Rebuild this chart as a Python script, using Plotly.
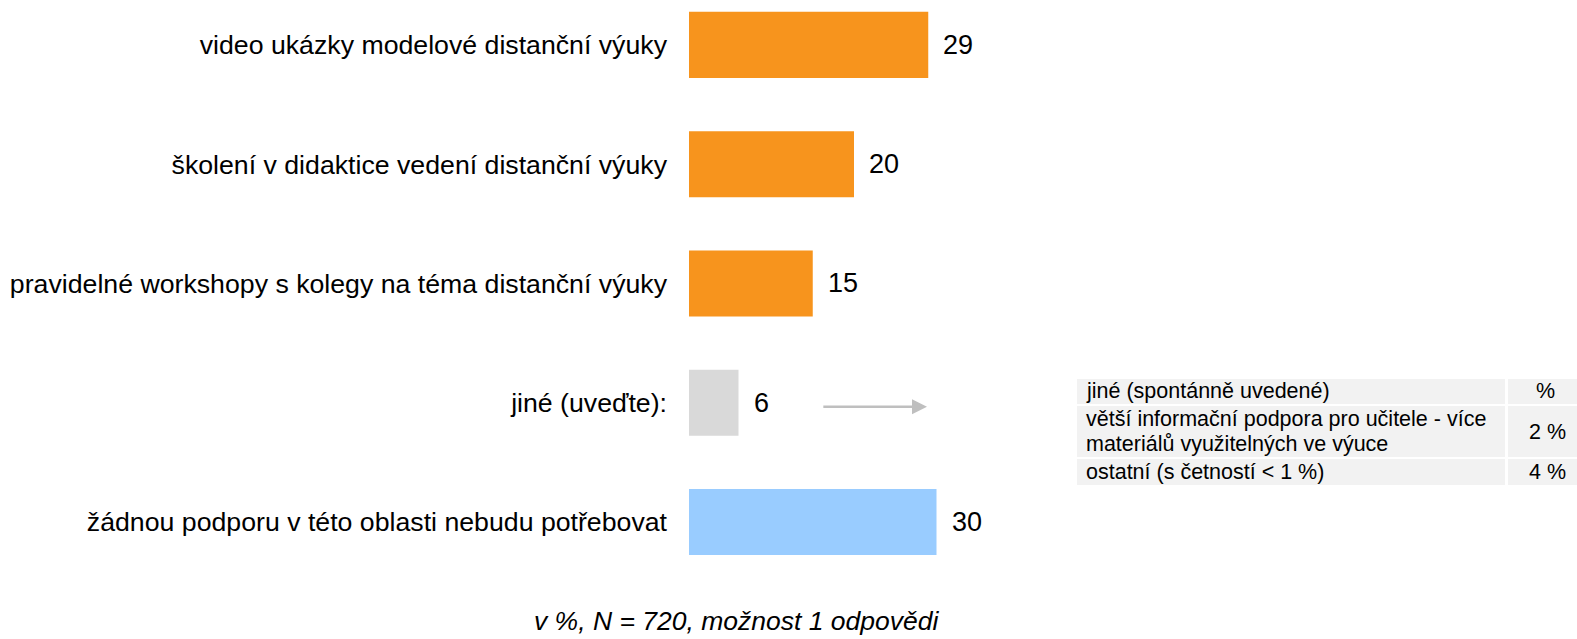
import plotly.graph_objects as go

# survey answers, top to bottom
categories = [
    "video ukázky modelové distanční výuky",
    "školení v didaktice vedení distanční výuky",
    "pravidelné workshopy s kolegy na téma distanční výuky",
    "jiné (uveďte):",
    "žádnou podporu v této oblasti nebudu potřebovat",
]
values = [29, 20, 15, 6, 30]
bar_colors = ["#F7941D", "#F7941D", "#F7941D", "#D9D9D9", "#99CCFF"]

# breakdown of the "jiné" answers (one list entry per printed line)
table_header = ["jiné (spontánně uvedené)", "%"]
table_items = [
    ["větší informační podpora pro učitele - více", "materiálů využitelných ve výuce"],
    ["ostatní (s četností < 1 %)"],
]
table_pcts = ["2 %", "4 %"]

note = "v %, N = 720, možnost 1 odpovědi"

FONT = "Liberation Sans, Arial, sans-serif"
W, H = 1577, 639
M_L, M_B = 689, 49
PX_PER_UNIT = 8.25
plot_w = W - M_L
plot_h = H - M_B


def px(x):
    return (x - M_L) / plot_w


def py(y):
    return (plot_h - y) / plot_h


fig = go.Figure()
fig.add_trace(
    go.Bar(
        x=values,
        y=list(range(len(categories))),
        orientation="h",
        width=0.555,
        marker={"color": bar_colors, "line": {"width": 0}},
        hoverinfo="skip",
        showlegend=False,
    )
)

annotations = []
shapes = []
for i, v in enumerate(values):
    annotations.append(
        {
            "x": v, "y": i, "xref": "x", "yref": "y",
            "text": str(v), "showarrow": False,
            "xanchor": "left", "xshift": 13,
            "font": {"family": FONT, "size": 27, "color": "#000000"},
        }
    )

# arrow pointing from the "jiné" bar to the breakdown table
annotations.append(
    {
        "x": 28.85, "y": 3, "ax": 16.1, "ay": 3,
        "xref": "x", "yref": "y", "axref": "x", "ayref": "y",
        "yshift": -4,
        "text": "", "showarrow": True,
        "arrowhead": 2, "arrowsize": 1.2, "arrowwidth": 2.5,
        "arrowcolor": "#BFBFBF",
    }
)

# breakdown table drawn as grey cells with white gaps
col_x = [(1077, 1505), (1508, 1590)]
row_y = [(379, 404), (406, 457), (459, 485)]
cell_font = {"family": FONT, "size": 21.5, "color": "#000000"}
rows = [([table_header[0]], table_header[1])] + list(zip(table_items, table_pcts))
for (y0, y1), (lines, pct) in zip(row_y, rows):
    for x0, x1 in col_x:
        shapes.append(
            {
                "type": "rect", "xref": "paper", "yref": "paper",
                "x0": px(x0), "x1": px(x1), "y0": py(y1), "y1": py(y0),
                "fillcolor": "#F2F2F2", "line": {"width": 0}, "layer": "below",
            }
        )
    mid = (y0 + y1) / 2
    n = len(lines)
    for k, line in enumerate(lines):
        ly = mid + (k - (n - 1) / 2) * 24.5
        annotations.append(
            {
                "x": px(1084), "y": py(ly), "xref": "paper", "yref": "paper",
                "text": line, "showarrow": False,
                "xanchor": "left", "yanchor": "middle",
                "font": cell_font,
            }
        )
    annotations.append(
        {
            "x": px(1568), "y": py(mid), "xref": "paper", "yref": "paper",
            "text": pct, "showarrow": False,
            "xanchor": "right" if pct != "%" else "center",
            "xshift": 0 if pct != "%" else -23,
            "yanchor": "middle",
            "font": cell_font,
        }
    )

annotations.append(
    {
        "x": px(736), "y": py(621), "xref": "paper", "yref": "paper",
        "text": "<i>" + note + "</i>", "showarrow": False,
        "xanchor": "center", "yanchor": "middle",
        "font": {"family": FONT, "size": 26.5, "color": "#000000"},
    }
)

fig.update_layout(
    width=W,
    height=H,
    margin={"l": M_L, "r": 0, "t": 0, "b": M_B},
    paper_bgcolor="white",
    plot_bgcolor="white",
    font={"family": FONT, "color": "#000000"},
    xaxis={
        "visible": False,
        "range": [0, plot_w / PX_PER_UNIT],
        "domain": [0, 1],
    },
    yaxis={
        "tickmode": "array",
        "tickvals": list(range(len(categories))),
        "ticktext": categories,
        "range": [4.57, -0.377],
        "showgrid": False,
        "zeroline": False,
        "showline": False,
        "ticks": "",
        "ticklabelstandoff": 21,
        "tickfont": {"family": FONT, "size": 26.7, "color": "#000000"},
    },
    annotations=annotations,
    shapes=shapes,
)

# the page body has a default 8px margin; drop it so the figure fills the window
fig.write_html(
    "out.html",
    config={"displayModeBar": False},
    post_script="document.body.style.margin='0';",
)
